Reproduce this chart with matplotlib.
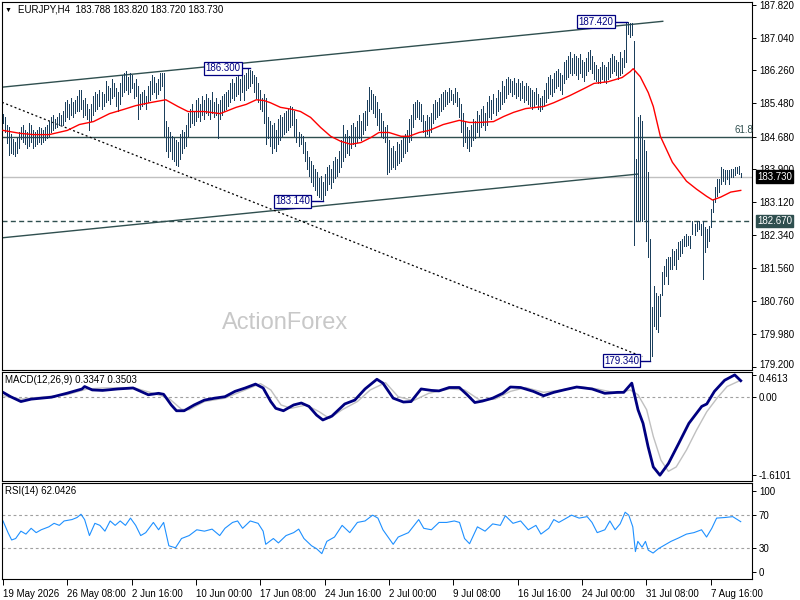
"""EURJPY H4 chart with MACD and RSI panels, MT4 style"""
import matplotlib
matplotlib.use('Agg')
import matplotlib.pyplot as plt
import matplotlib.transforms as mtrans
import numpy as np

plt.rcParams['font.family'] = ['Liberation Sans', 'DejaVu Sans']
plt.rcParams['font.size'] = 7

# bar highs / lows, one per H4 bar
bar_hi = [
    185.21, 185.16, 184.95, 184.90, 184.75, 184.62, 184.56, 184.66, 184.80, 184.90,
    184.95, 184.85, 184.80, 185.00, 184.95, 184.85, 184.80, 184.85, 184.90, 184.88,
    184.85, 184.90, 184.95, 185.05, 185.15, 185.20, 185.10, 185.15, 185.25, 185.20,
    185.30, 185.50, 185.55, 185.45, 185.60, 185.50, 185.55, 185.65, 185.80, 185.80,
    185.55, 185.60, 185.45, 185.35, 185.45, 185.65, 185.75, 185.70, 185.80, 185.75,
    185.70, 186.00, 185.90, 185.85, 186.05, 185.95, 185.85, 185.75, 185.95, 186.15,
    186.20, 186.25, 186.10, 186.20, 186.15, 185.95, 186.05, 185.90, 185.70, 185.75,
    185.80, 185.65, 185.90, 186.00, 186.15, 186.10, 185.95, 186.05, 186.20, 186.20,
    186.20, 185.05, 184.90, 184.80, 184.70, 184.65, 184.60, 184.55, 184.75, 184.85,
    184.80, 184.95, 185.25, 185.35, 185.45, 185.30, 185.55, 185.60, 185.45, 185.65,
    185.55, 185.70, 185.60, 185.55, 185.75, 185.50, 185.60, 185.45, 185.55, 185.65,
    185.70, 185.75, 185.80, 185.95, 186.05, 185.95, 186.10, 186.20, 186.05, 186.25,
    186.15, 186.20, 186.30, 186.28, 186.25, 186.15, 186.10, 185.95, 185.80, 185.60,
    185.70, 185.60, 185.15, 185.05, 184.95, 185.00, 184.85, 185.10, 185.20, 185.15,
    185.25, 185.30, 185.35, 185.40, 185.38, 185.30, 185.10, 184.80, 184.75, 184.70,
    184.55, 184.35, 184.20, 184.10, 184.00, 183.90, 183.85, 183.70, 183.75, 183.60,
    183.80, 183.95, 184.00, 183.90, 184.10, 184.20, 184.15, 184.35, 184.60, 184.95,
    184.75, 184.85, 184.70, 184.95, 185.00, 184.90, 185.05, 185.20, 185.05, 185.25,
    185.30, 185.55, 185.87, 185.80, 185.70, 185.65, 185.50, 185.35, 185.25, 185.05,
    184.90, 184.95, 184.60, 184.40, 184.45, 184.35, 184.55, 184.50, 184.60, 184.70,
    184.75, 184.85, 185.10, 185.20, 185.45, 185.50, 185.55, 185.50, 185.45, 185.20,
    185.05, 185.20, 185.15, 185.25, 185.45, 185.55, 185.50, 185.60, 185.70, 185.75,
    185.80, 185.75, 185.85, 185.80, 185.70, 185.85, 185.75, 185.60, 185.45, 185.25,
    185.05, 184.90, 184.85, 184.95, 185.10, 185.05, 185.30, 185.20, 185.35, 185.40,
    185.25, 185.50, 185.65, 185.55, 185.70, 185.60, 185.80, 185.75, 186.00, 185.90,
    186.05, 186.10, 186.05, 186.00, 186.08, 185.95, 186.05, 185.95, 186.00, 185.90,
    185.95, 185.90, 185.85, 185.80, 185.75, 185.85, 185.70, 185.60, 185.65, 185.80,
    185.95, 186.10, 186.15, 186.05, 186.20, 186.25, 186.30, 186.20, 186.15, 186.45,
    186.50, 186.60, 186.70, 186.55, 186.65, 186.60, 186.55, 186.65, 186.50, 186.45,
    186.55, 186.70, 186.75, 186.60, 186.45, 186.40, 186.30, 186.35, 186.45, 186.40,
    186.35, 186.45, 186.55, 186.65, 186.60, 186.50, 186.45, 186.70, 186.55,
    186.75, 187.40, 187.42, 187.40, 187.38,
    186.95, 184.15, 185.15, 185.20, 185.05, 184.60, 184.35, 183.83,
    182.24, 180.63, 181.12, 180.95, 180.89, 180.93, 181.46, 181.60, 181.77, 181.81,
    181.81, 182.00, 181.95, 182.00, 182.17, 182.19, 182.24, 182.31, 182.36, 182.31,
    182.31, 182.67, 182.60, 182.67, 182.67, 182.60, 182.67, 182.53, 182.48, 182.55,
    182.95, 183.19, 183.47, 183.67, 183.67, 183.95, 183.90, 183.88, 183.88, 183.88,
    183.90, 183.90, 183.95, 183.95, 183.97, 183.82,
]
bar_lo = [
    185.00, 184.80, 184.54, 184.25, 184.30, 184.26, 184.22, 184.30, 184.42, 184.62,
    184.55, 184.50, 184.40, 184.45, 184.55, 184.40, 184.45, 184.50, 184.55, 184.50,
    184.55, 184.60, 184.65, 184.70, 184.80, 184.85, 184.88, 184.90, 184.95, 184.95,
    184.95, 185.05, 185.15, 185.10, 185.20, 185.15, 185.25, 185.30, 185.30, 185.35,
    185.15, 185.20, 185.10, 184.85, 185.05, 185.20, 185.30, 185.35, 185.40, 185.35,
    185.40, 185.50, 185.55, 185.45, 185.60, 185.65, 185.40, 185.30, 185.45, 185.65,
    185.75, 185.80, 185.70, 185.75, 185.85, 185.60, 185.65, 185.10, 185.35, 185.40,
    185.45, 185.35, 185.50, 185.55, 185.70, 185.75, 185.60, 185.70, 185.80, 185.90,
    184.70, 184.35, 184.20, 184.35, 184.15, 184.10, 184.00, 183.98, 184.15, 184.30,
    184.40, 184.45, 184.70, 184.90, 185.00, 184.95, 185.05, 185.15, 185.05, 185.20,
    185.10, 185.25, 185.20, 185.10, 185.25, 185.15, 185.20, 184.65, 185.10, 185.20,
    185.30, 185.35, 185.40, 185.50, 185.60, 185.55, 185.65, 185.70, 185.55, 185.75,
    185.55, 185.80, 185.85, 185.90, 185.95, 185.75, 185.60, 185.50, 185.35, 185.30,
    185.00, 184.50, 184.65, 184.45, 184.30, 184.40, 184.35, 184.50, 184.60, 184.70,
    184.75, 184.80, 184.85, 184.90, 184.95, 184.70, 184.55, 184.45, 184.50, 184.30,
    184.10, 183.90, 183.75, 183.60, 183.50, 183.40, 183.30, 183.25, 183.20, 183.14,
    183.30, 183.40, 183.55, 183.45, 183.60, 183.70, 183.75, 183.85, 183.95, 184.10,
    184.20, 184.30, 184.25, 184.40, 184.50, 184.45, 184.55, 184.65, 184.60, 184.75,
    184.85, 184.95, 185.30, 185.35, 185.25, 185.15, 184.95, 184.85, 184.70, 184.65,
    184.55, 183.78, 183.85, 183.90, 183.95, 183.90, 184.00, 184.05, 184.10, 184.20,
    184.30, 184.35, 184.55, 184.60, 184.90, 185.10, 185.15, 185.10, 185.05, 184.80,
    184.70, 184.75, 184.70, 184.80, 185.00, 185.10, 185.15, 185.20, 185.30, 185.35,
    185.40, 185.45, 185.50, 185.55, 185.45, 185.50, 185.40, 185.15, 184.80, 184.45,
    184.55, 184.40, 184.35, 184.45, 184.60, 184.65, 184.80, 184.70, 184.90, 184.95,
    184.85, 184.95, 185.15, 185.10, 185.25, 185.20, 185.30, 185.35, 185.45, 185.50,
    185.60, 185.70, 185.75, 185.65, 185.70, 185.60, 185.65, 185.55, 185.60, 185.50,
    185.55, 185.45, 185.40, 185.35, 185.40, 185.45, 185.35, 185.30, 185.35, 185.40,
    185.50, 185.60, 185.70, 185.65, 185.75, 185.85, 185.90, 185.80, 185.70, 185.95,
    186.05, 186.10, 186.20, 186.15, 186.20, 186.15, 186.05, 186.20, 186.10, 186.00,
    186.15, 186.25, 186.30, 186.20, 186.05, 186.00, 185.95, 185.95, 186.05, 186.00,
    185.95, 186.05, 186.10, 186.20, 186.25, 186.15, 186.05, 186.15, 186.20,
    186.35, 186.45, 187.12, 187.05, 187.10,
    182.10, 182.67, 182.67, 182.70, 182.68, 182.72, 182.19, 181.81,
    179.34, 179.46, 180.18, 180.10, 180.03, 180.41, 180.90, 181.17, 181.36, 181.17,
    181.53, 181.53, 181.63, 181.53, 181.77, 181.84, 181.90, 182.07, 182.07, 182.10,
    182.02, 182.36, 182.33, 182.43, 182.48, 182.33, 181.29, 181.93, 182.05, 182.19,
    182.53, 182.88, 183.12, 183.26, 183.36, 183.55, 183.62, 183.55, 183.67, 183.55,
    183.71, 183.71, 183.76, 183.81, 183.78, 183.72,
]

# moving average (red), read at sample bars
ma_x = [0, 8.5, 15, 23, 32, 38, 45, 53, 60, 66, 73, 81, 87, 92, 100, 108, 116, 121,
        126, 130, 133, 138, 144, 148, 153, 158, 163, 168, 173, 178, 183, 187, 192,
        198, 202, 207, 212, 219, 227, 232, 237, 244, 249, 254, 260, 269, 274, 282,
        290, 294, 301, 308, 312, 313.5, 317, 321, 323.5, 327, 333, 340, 345, 350,
        353, 357, 362, 367]
ma_y = [184.83, 184.76, 184.73, 184.73, 184.83, 184.97, 185.04, 185.23, 185.33, 185.42,
        185.49, 185.56, 185.40, 185.28, 185.28, 185.23, 185.38, 185.45, 185.56, 185.54,
        185.49, 185.38, 185.33, 185.28, 185.14, 184.90, 184.69, 184.57, 184.50, 184.54,
        184.66, 184.78, 184.78, 184.69, 184.69, 184.78, 184.83, 184.97, 185.07, 185.02,
        185.02, 185.04, 185.16, 185.26, 185.35, 185.40, 185.49, 185.66, 185.85, 185.95,
        185.99, 186.09, 186.23, 186.30, 186.11, 185.73, 185.40, 184.69, 184.07, 183.62,
        183.43, 183.26, 183.17, 183.24, 183.36, 183.40]

# trend lines (bar index, price)
upper_x = [-0.5, 328.2]
upper_y = [185.86, 187.43]
lower_x = [-0.5, 316.0]
lower_y = [182.27, 183.79]
dotted_x = [-0.5, 318.0]
dotted_y = [185.50, 179.44]
fibo_618 = 184.68
support = 182.67
last_price = 183.73

# swing labels: (text, text anchor bar, price, bar of swing)
swings = [('187.420', 303.5, 187.42, 310.5),
          ('186.300', 118.0, 186.31, 123.0),
          ('183.140', 152.7, 183.14, 159.0),
          ('179.340', 316.4, 179.34, 322.0)]

main_ticks = [187.82, 187.04, 186.26, 185.48, 184.68, 183.90, 183.12, 182.34,
              181.56, 180.76, 179.98, 179.20]

# MACD main (thick) and signal (thin)
macd_x = [0, 3.8, 8.9, 14, 24.1, 31.7, 39.3, 40.6, 44.4, 49.5, 57.1, 64.7, 72.3, 77.4,
          79.9, 83.7, 86.3, 90.1, 95.1, 100.2, 105.3, 110.4, 115.4, 120.5, 125.6,
          129.4, 133.2, 135.7, 139.5, 144.6, 148.4, 152.2, 156, 159.1, 163.6, 170, 175,
          180.1, 186, 189, 194.1, 199.2, 203, 208, 213.1, 216.9, 222, 227, 230.9,
          234.7, 238.5, 243.6, 248.6, 252.4, 257.5, 263.8, 268.9, 274, 279, 285.4,
          293, 299.4, 305.7, 308.8, 312.8, 315.9, 318.4, 320.9, 323.5, 326.8, 331,
          336.2, 341.2, 347.6, 350.1, 353.9, 359, 364, 367]
macd_v = [0.10, 0.01, -0.09, -0.04, 0.00, 0.08, 0.17, 0.22, 0.15, 0.14, 0.17, 0.19,
          0.05, 0.08, 0.06, -0.16, -0.28, -0.28, -0.16, -0.06, -0.02, 0.01, 0.12, 0.19,
          0.27, 0.19, -0.09, -0.23, -0.28, -0.16, -0.12, -0.19, -0.37, -0.47, -0.39,
          -0.14, -0.06, 0.17, 0.37, 0.29, -0.02, -0.10, -0.09, 0.17, 0.14, 0.13, 0.20,
          0.20, 0.05, -0.11, -0.08, -0.02, 0.08, 0.21, 0.20, 0.12, 0.03, 0.10, 0.15,
          0.21, 0.17, 0.08, 0.10, 0.10, 0.29, -0.26, -0.54, -1.02, -1.44, -1.61, -1.37,
          -0.95, -0.54, -0.19, -0.14, 0.12, 0.35, 0.46, 0.34]
sig_x = [0, 8.9, 19, 31.7, 41.9, 49.5, 64.7, 74.8, 82.4, 88.8, 92.6, 100.2, 110.4,
         120.5, 128.1, 133.2, 138.3, 143.3, 150.9, 157.3, 162.4, 168.7, 176.3, 182.7,
         190.3, 196.6, 204.2, 211.8, 222, 229.6, 237.2, 244.8, 252.4, 260, 268.9,
         277.9, 286.7, 295.6, 305.7, 312, 315.9, 320.2, 323.5, 327.3, 331, 334.9, 340,
         345, 350.1, 355.2, 360.2, 367]
sig_v = [0.03, -0.04, 0.00, 0.05, 0.17, 0.19, 0.20, 0.08, -0.02, -0.25, -0.26, -0.09,
         -0.02, 0.15, 0.28, 0.15, -0.16, -0.23, -0.16, -0.30, -0.44, -0.26, -0.09, 0.15,
         0.30, 0.01, -0.07, 0.08, 0.17, 0.15, -0.06, -0.04, 0.12, 0.20, 0.10, 0.15,
         0.22, 0.17, 0.08, 0.15, 0.05, -0.26, -0.81, -1.30, -1.53, -1.44, -1.09, -0.68,
         -0.30, -0.02, 0.22, 0.35]

# RSI(14)
rsi_x = [0, 2.5, 4.3, 6.3, 8.9, 11.4, 14, 16.5, 19, 22.8, 25.4, 28, 30.4, 34.3, 36.8,
         38.8, 40.6, 43, 45.7, 48.2, 50.7, 53.3, 55.8, 58.3, 60.9, 63.4, 66, 68.5, 71,
         74.8, 77.4, 79.9, 82.5, 85.8, 88.8, 92.6, 96.4, 100.2, 104, 107.8, 110.4,
         114.2, 116.7, 119.2, 123, 126.9, 129.4, 130.7, 134.5, 137, 140.8, 144.6,
         147.1, 149.7, 153.5, 156, 158.6, 161.1, 164.9, 168.7, 172.5, 176.3, 180.1,
         183.9, 186.5, 189, 194.1, 196.6, 201.7, 206.8, 209.3, 213.1, 216.9, 220.7,
         224.5, 227.1, 229.6, 232.1, 236, 239.8, 243.6, 247.4, 249.9, 253.7, 257.5,
         261.3, 265.1, 267.6, 271.5, 274, 276.5, 280.3, 282.8, 286.6, 290.6, 293,
         295.6, 299.4, 301.9, 304.5, 307, 309.5, 311.3, 313.3, 314.6, 315.8, 317.9,
         319.6, 321, 323.4, 326, 328.5, 332.3, 336.1, 340, 343.7, 347.5, 350, 352.6,
         355, 359, 363, 367]
rsi_v = [62.9, 48.6, 39.6, 41.4, 50.4, 46.8, 53.9, 48.6, 52.1, 55.7, 60.0, 57.5, 62.9,
         64.6, 67.1, 71.1, 64.6, 45.0, 60.0, 57.5, 50.4, 62.9, 57.5, 62.9, 57.5, 66.4,
         57.5, 45.0, 48.6, 61.1, 52.1, 61.1, 32.5, 30.0, 41.4, 45.0, 52.1, 50.4, 52.9,
         45.0, 53.9, 61.1, 62.9, 53.9, 62.9, 60.0, 50.4, 34.3, 41.4, 36.0, 45.0, 48.6,
         52.9, 41.4, 32.5, 28.9, 22.9, 37.9, 43.2, 57.5, 48.6, 61.1, 62.9, 70.0, 66.4,
         52.1, 34.3, 43.2, 48.6, 64.6, 53.9, 52.1, 61.1, 61.1, 62.9, 61.1, 41.4, 35.0,
         55.7, 50.4, 59.3, 57.5, 69.3, 60.0, 62.9, 52.1, 57.5, 46.8, 53.9, 64.6, 61.1,
         66.4, 70.0, 66.4, 68.2, 61.1, 48.6, 52.1, 62.9, 52.1, 59.3, 73.6, 70.0, 55.7,
         25.4, 37.9, 30.7, 37.9, 27.1, 23.6, 28.9, 32.5, 37.9, 42.1, 46.8, 48.6, 52.1,
         43.2, 53.9, 66.4, 67.1, 68.2, 62.0]

date_ticks = [0, 32, 64, 96, 128, 160, 192, 224, 256, 288, 320, 352]
date_labels = ['19 May 2026', '26 May 08:00', '2 Jun 16:00', '10 Jun 00:00',
               '17 Jun 08:00', '24 Jun 16:00', '2 Jul 00:00', '9 Jul 08:00',
               '16 Jul 16:00', '24 Jul 00:00', '31 Jul 08:00', '7 Aug 16:00']

BAR = '#1B3F5C'
SLATE = '#2F4F4F'
NAVY = '#000080'
XLIM = (-0.5, 372.6)

fig = plt.figure(figsize=(8, 6), dpi=100)
ax = fig.add_axes([2 / 800, 230 / 600, 750 / 800, 368 / 600])
ax_m = fig.add_axes([2 / 800, 119 / 600, 750 / 800, 109 / 600])
ax_r = fig.add_axes([2 / 800, 21 / 600, 750 / 800, 96 / 600])

for a in (ax, ax_m, ax_r):
    a.set_xlim(*XLIM)
    for s in a.spines.values():
        s.set_linewidth(0.8)
        s.set_color('black')
    a.yaxis.tick_right()
    a.tick_params(axis='y', right=True, left=False, labelright=True, labelleft=False,
                  length=3, width=0.7, pad=2, labelsize=7)
    a.tick_params(axis='x', bottom=False, labelbottom=False)

# ---- main price panel
ax.set_ylim(179.12, 187.89)
ax.set_yticks(main_ticks)
ax.set_yticklabels([f'{t:.3f}' for t in main_ticks])
# the lowest label sits on the panel edge, as in the terminal
ax.get_yticklabels()[-1].set_transform(
    ax.get_yticklabels()[-1].get_transform()
    + mtrans.ScaledTranslation(0, 2 / 72, fig.dpi_scale_trans))

ax.axhline(fibo_618, color=SLATE, lw=1)
ax.axhline(last_price, color='#C0C0C0', lw=1)
ax.axhline(support, color=SLATE, lw=1, dashes=(3.6, 2.4))
ax.plot(upper_x, upper_y, color=SLATE, lw=1)
ax.plot(lower_x, lower_y, color=SLATE, lw=1)
ax.plot(dotted_x, dotted_y, color='black', lw=0.9, dashes=(1.6, 2.0))

idx = np.arange(len(bar_hi))
ax.vlines(idx, bar_lo, bar_hi, colors=BAR, lw=0.55, antialiased=False, zorder=3)
ax.plot(ma_x, ma_y, color='red', lw=1, zorder=4)

for txt, tx, price, bx in swings:
    ax.plot([tx + 1.0, bx], [price, price], color=NAVY, lw=1, zorder=5)
    ax.text(tx, price, txt, ha='right', va='center', color=NAVY, fontsize=7, zorder=6,
            bbox=dict(boxstyle='square,pad=0.15', fc='white', ec=NAVY, lw=0.9))

ax.text(364, fibo_618 + 0.04, '61.8', ha='left', va='bottom', color=SLATE,
        fontsize=7, clip_on=False)
ax.text(0.377, 0.128, 'ActionForex', transform=ax.transAxes, fontsize=17,
        color='#C8C8C8', ha='center', va='center', zorder=1)

yaxis_tr = mtrans.blended_transform_factory(ax.transAxes, ax.transData)
ax.text(1.0067, last_price, '183.730', transform=yaxis_tr, ha='left', va='center',
        color='white', fontsize=7, clip_on=False, zorder=10,
        bbox=dict(boxstyle='square,pad=0.12', fc='black', ec='black'))
ax.text(1.0067, support, '182.670', transform=yaxis_tr, ha='left', va='center',
        color='white', fontsize=7, clip_on=False, zorder=10,
        bbox=dict(boxstyle='square,pad=0.12', fc=SLATE, ec=SLATE))

fig.text(5 / 800, 1 - 10 / 600, '\u25bc', fontsize=5, va='center', ha='left')
fig.text(18 / 800, 1 - 10 / 600, 'EURJPY,H4  183.788 183.820 183.720 183.730',
         fontsize=7, va='center', ha='left')

# ---- MACD panel
ax_m.set_ylim(-1.73, 0.52)
ax_m.axhline(0, color='#A0A0A0', lw=0.8, dashes=(2.5, 2.5))
ax_m.plot(sig_x, sig_v, color='#C0C0C0', lw=1)
ax_m.plot(macd_x, macd_v, color=NAVY, lw=2)
ax_m.set_yticks([0.4613, 0.0, -1.6101])
ax_m.set_yticklabels(['0.4613', '0.00', '-1.6101'])
ax_m.get_yticklabels()[0].set_transform(
    ax_m.get_yticklabels()[0].get_transform()
    + mtrans.ScaledTranslation(0, -2.5 / 72, fig.dpi_scale_trans))
ax_m.text(0.004, 0.93, 'MACD(12,26,9) 0.3347 0.3503', transform=ax_m.transAxes,
          fontsize=7, va='center', ha='left')

# ---- RSI panel
ax_r.set_ylim(-8.2, 109.4)
for lvl in (70, 30):
    ax_r.axhline(lvl, color='#A0A0A0', lw=0.8, dashes=(2.5, 2.5))
ax_r.plot(rsi_x, rsi_v, color='#1E90FF', lw=0.8)
ax_r.set_yticks([100, 70, 30, 0])
ax_r.set_yticklabels(['100', '70', '30', '0'])
ax_r.text(0.004, 0.915, 'RSI(14) 62.0426', transform=ax_r.transAxes,
          fontsize=7, va='center', ha='left')

ax_r.set_xticks(date_ticks)
ax_r.set_xticklabels(date_labels, ha='left')
ax_r.tick_params(axis='x', bottom=True, labelbottom=True, length=4, width=0.7,
                 pad=3, labelsize=7)

fig.savefig('out.png', dpi=100)
